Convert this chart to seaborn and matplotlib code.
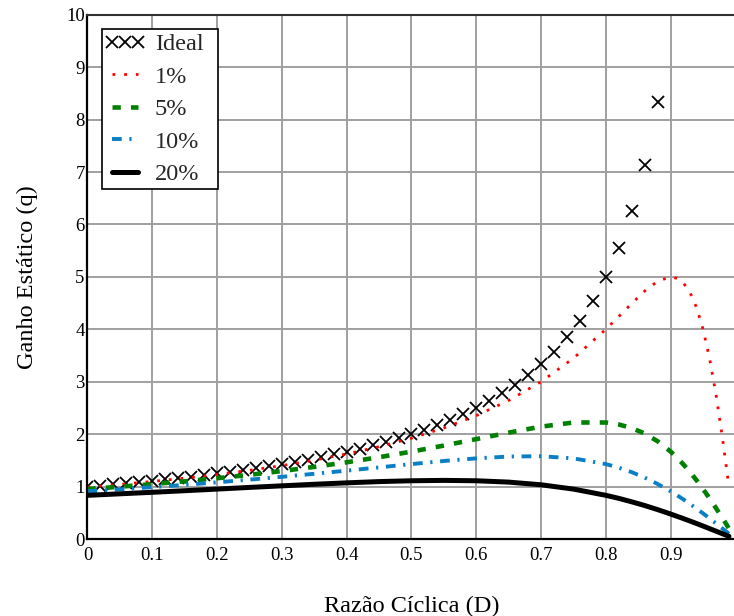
import matplotlib
matplotlib.use('Agg')
import matplotlib.pyplot as plt
from matplotlib.patches import Rectangle
import seaborn as sns

# ---- data ----
d_ideal = [0.00, 0.02, 0.04, 0.06, 0.08, 0.10, 0.12, 0.14, 0.16, 0.18,
           0.20, 0.22, 0.24, 0.26, 0.28, 0.30, 0.32, 0.34, 0.36, 0.38,
           0.40, 0.42, 0.44, 0.46, 0.48, 0.50, 0.52, 0.54, 0.56, 0.58,
           0.60, 0.62, 0.64, 0.66, 0.68, 0.70, 0.72, 0.74, 0.76, 0.78,
           0.80, 0.82, 0.84, 0.86, 0.88]
q_ideal = [1.000, 1.020, 1.042, 1.064, 1.087, 1.111, 1.136, 1.163, 1.190, 1.220,
           1.250, 1.282, 1.316, 1.351, 1.389, 1.429, 1.471, 1.515, 1.563, 1.613,
           1.667, 1.724, 1.786, 1.852, 1.923, 2.000, 2.083, 2.174, 2.273, 2.381,
           2.500, 2.632, 2.778, 2.941, 3.125, 3.333, 3.571, 3.846, 4.167, 4.545,
           5.000, 5.556, 6.250, 7.143, 8.333]

d_curve = [0.00, 0.05, 0.10, 0.15, 0.20, 0.25, 0.30, 0.35, 0.40, 0.45,
           0.50, 0.55, 0.60, 0.65, 0.70, 0.75, 0.80, 0.82, 0.84, 0.86,
           0.88, 0.90, 0.91, 0.92, 0.93, 0.94, 0.95, 0.96, 0.97, 0.98, 0.99]
q_1pct = [0.990, 1.041, 1.098, 1.160, 1.231, 1.310, 1.400, 1.503, 1.622, 1.760,
          1.923, 2.118, 2.353, 2.642, 3.000, 3.448, 4.000, 4.245, 4.494, 4.730,
          4.918, 5.000, 4.972, 4.878, 4.698, 4.412, 4.000, 3.448, 2.752, 1.923, 0.990]
q_5pct = [0.952, 0.997, 1.047, 1.100, 1.159, 1.224, 1.296, 1.376, 1.463, 1.560,
          1.667, 1.782, 1.905, 2.029, 2.143, 2.222, 2.222, 2.184, 2.116, 2.011,
          1.863, 1.667, 1.549, 1.418, 1.275, 1.119, 0.952, 0.775, 0.589, 0.397, 0.200]
q_10pct = [0.909, 0.948, 0.989, 1.033, 1.081, 1.132, 1.186, 1.244, 1.304, 1.366,
           1.429, 1.488, 1.538, 1.573, 1.579, 1.538, 1.429, 1.360, 1.274, 1.171,
           1.049, 0.909, 0.833, 0.752, 0.667, 0.579, 0.488, 0.394, 0.297, 0.199, 0.100]
q_20pct = [0.833, 0.862, 0.891, 0.921, 0.952, 0.984, 1.014, 1.044, 1.071, 1.095,
           1.111, 1.118, 1.111, 1.085, 1.034, 0.952, 0.833, 0.775, 0.709, 0.638,
           0.560, 0.476, 0.432, 0.388, 0.342, 0.295, 0.247, 0.198, 0.149, 0.100, 0.050]

series_labels = ['Ideal', '1%', '5%', '10%', '20%']
x_ticks = [0.0, 0.1, 0.2, 0.3, 0.4, 0.5, 0.6, 0.7, 0.8, 0.9]
x_tick_labels = ['0', '0.1', '0.2', '0.3', '0.4', '0.5', '0.6', '0.7', '0.8', '0.9']
y_ticks = [0, 1, 2, 3, 4, 5, 6, 7, 8, 9, 10]
y_tick_labels = ['0', '1', '2', '3', '4', '5', '6', '7', '8', '9', '10']
x_label = 'Razão Cíclica (D)'
y_label = 'Ganho Estático (q)'

# ---- style ----
sns.set_theme(style='white')
plt.rcParams['font.family'] = ['Liberation Serif', 'DejaVu Serif']
plt.rcParams['lines.scale_dashes'] = False

fig = plt.figure(figsize=(7.34, 6.16), dpi=100)
ax = fig.add_axes([0.1192, 0.125, 0.8828, 0.8511])

sns.lineplot(x=d_ideal, y=q_ideal, ax=ax, color='black', marker='x',
             linestyle='none', markersize=8, markeredgewidth=1.3,
             markeredgecolor='black', label=series_labels[0], sort=False)
sns.lineplot(x=d_curve, y=q_1pct, ax=ax, color='#ff0000', linewidth=2.0,
             linestyle=(0, (2.0, 6.4)), label=series_labels[1], sort=False)
sns.lineplot(x=d_curve, y=q_5pct, ax=ax, color='#008000', linewidth=3.3,
             linestyle=(0, (6.0, 7.3)), label=series_labels[2], sort=False)
sns.lineplot(x=d_curve, y=q_10pct, ax=ax, color='#0a7fc6', linewidth=2.8,
             linestyle=(0, (7.0, 5.5, 1.6, 5.5)), label=series_labels[3], sort=False)
sns.lineplot(x=d_curve, y=q_20pct, ax=ax, color='black', linewidth=3.6,
             linestyle='-', label=series_labels[4], sort=False)

ax.set_xlim(0, 1)
ax.set_ylim(0, 10)
ax.set_xticks(x_ticks)
ax.set_xticklabels(x_tick_labels)
ax.set_yticks(y_ticks)
ax.set_yticklabels(y_tick_labels)
ax.tick_params(axis='both', length=0, labelsize=13.5, colors='black')
ax.tick_params(axis='x', pad=6)
ax.tick_params(axis='y', pad=2)

ax.grid(True, color='#a0a0a0', linewidth=1.4)
ax.set_axisbelow(True)
for side in ['left', 'bottom']:
    ax.spines[side].set_color('black')
    ax.spines[side].set_linewidth(1.6)
ax.spines['top'].set_color('#303030')
ax.spines['top'].set_linewidth(1.5)
ax.spines['right'].set_color('#303030')
ax.spines['right'].set_linewidth(1.5)

ax.set_xlabel(x_label, fontsize=17.5, labelpad=23, color='black')
ax.set_ylabel(y_label, fontsize=17.5, labelpad=20, color='black')

# legend frame drawn as its own box (wider right margin, like the reference)
frame = Rectangle((0.0224, 0.6676), 0.1790, 0.3051, transform=ax.transAxes,
                  facecolor='white', edgecolor='black', linewidth=1.2,
                  zorder=4.5, clip_on=False)
ax.add_patch(frame)

leg = ax.legend(loc='upper left', bbox_to_anchor=(0.0224, 0.9691), borderaxespad=0,
                fontsize=17.5, numpoints=3, handlelength=1.7, handletextpad=0.37,
                labelspacing=0.43, borderpad=0.1, frameon=False)

fig.savefig('out.png', dpi=100)
